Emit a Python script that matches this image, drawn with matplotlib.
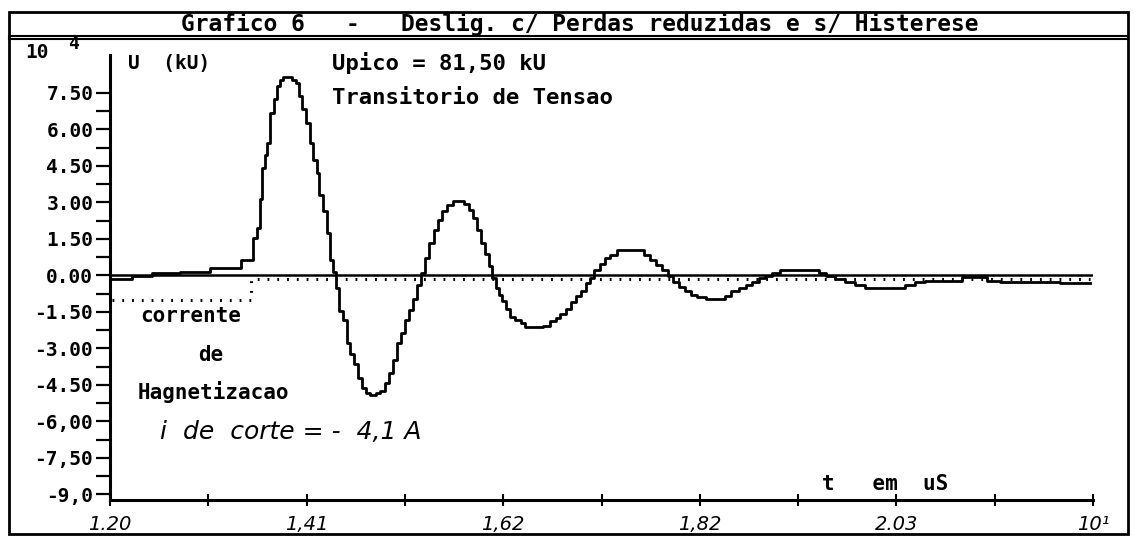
import numpy as np
import matplotlib.pyplot as plt
from matplotlib.lines import Line2D
from matplotlib.patches import Rectangle

t_u = [1.200, 1.221, 1.226, 1.263, 1.285, 1.327, 1.350, 1.353, 1.357, 1.360,
       1.362, 1.365, 1.368, 1.371, 1.375, 1.378, 1.382, 1.385, 1.390, 1.395,
       1.398, 1.401, 1.405, 1.410, 1.413, 1.417, 1.420, 1.423, 1.428, 1.431,
       1.434, 1.438, 1.441, 1.444, 1.449, 1.452, 1.456, 1.460, 1.465, 1.469,
       1.473, 1.478, 1.484, 1.488, 1.493, 1.497, 1.502, 1.506, 1.510, 1.514,
       1.519, 1.523, 1.527, 1.531, 1.535, 1.540, 1.545, 1.549, 1.554, 1.560,
       1.565, 1.572, 1.578, 1.582, 1.586, 1.590, 1.595, 1.599, 1.602, 1.606,
       1.610, 1.613, 1.617, 1.621, 1.626, 1.632, 1.637, 1.642, 1.655, 1.662,
       1.669, 1.674, 1.679, 1.685, 1.690, 1.695, 1.701, 1.706, 1.710, 1.715,
       1.721, 1.726, 1.732, 1.740, 1.761, 1.768, 1.775, 1.781, 1.787, 1.793,
       1.799, 1.805, 1.812, 1.818, 1.824, 1.837, 1.848, 1.854, 1.861, 1.869,
       1.876, 1.883, 1.890, 1.896, 1.904, 1.914, 1.946, 1.954, 1.962, 1.972,
       1.983, 1.994, 2.004, 2.036, 2.047, 2.057, 2.068, 2.099, 2.103, 2.124,
       2.131, 2.152, 2.174, 2.237]
u = [-0.16, -0.16, -0.04, 0.08, 0.16, 0.29, 0.62, 1.52, 1.93, 3.16,
     4.40, 4.93, 5.43, 6.66, 7.27, 7.77, 8.02, 8.15, 8.15, 8.05,
     7.89, 7.36, 6.86, 6.25, 5.43, 4.73, 4.19, 3.29, 2.63, 1.73,
     0.62, 0.16, -0.53, -1.48, -1.85, -2.79, -3.21, -3.62, -4.23, -4.64,
     -4.85, -4.93, -4.85, -4.73, -4.44, -4.03, -3.49, -2.79, -2.38, -1.85,
     -1.44, -0.95, -0.41, 0.08, 0.70, 1.32, 1.85, 2.26, 2.63, 2.88,
     3.04, 3.04, 2.92, 2.67, 2.34, 1.85, 1.32, 0.90, 0.37, -0.12,
     -0.53, -0.82, -1.07, -1.36, -1.69, -1.85, -1.97, -2.10, -2.10, -2.06,
     -1.89, -1.77, -1.60, -1.36, -1.11, -0.86, -0.62, -0.33, -0.12, 0.21,
     0.49, 0.70, 0.86, 1.03, 1.03, 0.86, 0.62, 0.41, 0.21, -0.04,
     -0.29, -0.49, -0.66, -0.82, -0.90, -0.95, -0.95, -0.86, -0.66, -0.53,
     -0.41, -0.29, -0.12, -0.04, 0.08, 0.21, 0.21, 0.08, -0.04, -0.16,
     -0.29, -0.41, -0.53, -0.53, -0.41, -0.25, -0.21, -0.21, -0.08, -0.08,
     -0.21, -0.25, -0.29, -0.33]

# corrente de magnetizacao (escala arbitraria), cortada em t = 1.349
t_i = [1.202, 1.349, 1.349, 2.237]
i_mag = [-1.00, -1.00, -0.14, -0.14]

y_ticks = [7.5, 6.0, 4.5, 3.0, 1.5, 0.0, -1.5, -3.0, -4.5, -6.0, -7.5, -9.0]
y_labels = ['7.50', '6.00', '4.50', '3.00', '1.50', '0.00',
            '-1.50', '-3.00', '-4.50', '-6,00', '-7,50', '-9,0']
x_ticks = [1.200, 1.304, 1.408, 1.512, 1.616, 1.720, 1.824, 1.928, 2.032, 2.136, 2.240]
x_labels = ['1.20', '', '1,41', '', '1,62', '', '1,82', '', '2.03', '', '10¹']

W, H = 1134, 538
mono = dict(family='DejaVu Sans Mono', weight='bold', color='black')
hand = dict(family='DejaVu Sans', style='italic', color='black')


def fx(px):
    return px / W


def fy(py):
    return 1 - py / H


fig = plt.figure(figsize=(W / 100, H / 100), dpi=100)
fig.patch.set_facecolor('white')

# moldura e faixa do titulo
fig.add_artist(Rectangle((fx(9), fy(534)), fx(1128) - fx(9), fy(12) - fy(534),
                         transform=fig.transFigure, fill=False, lw=2, color='black'))
for yy in (36, 39):
    fig.add_artist(Line2D([fx(9), fx(1128)], [fy(yy), fy(yy)],
                          transform=fig.transFigure, lw=1.5, color='black'))
fig.text(fx(580), fy(24), 'Grafico 6   -   Deslig. c/ Perdas reduzidas e s/ Histerese',
         ha='center', va='center', fontsize=16.5, **mono)

ax = fig.add_axes([fx(110), fy(500), fx(1093) - fx(110), fy(55) - fy(500)])
ax.set_xlim(1.20, 2.24)
ax.set_ylim(-9.23, 9.06)
for s in ('top', 'right'):
    ax.spines[s].set_visible(False)
ax.spines['left'].set_linewidth(2.2)
ax.spines['bottom'].set_linewidth(2.2)

ax.axhline(0, color='black', lw=1.8)
ax.plot(t_i, i_mag, color='black', lw=2.2, linestyle=(0, (0.6, 2.6)))
ax.plot(t_u, u, color='black', lw=2.0, drawstyle='steps-mid')

ax.set_yticks(y_ticks, y_labels)
ax.set_yticks(np.arange(-8.25, 7.6, 1.5), minor=True)
ax.tick_params(axis='y', which='both', direction='out', length=10, width=1.6, pad=2)
for lab in ax.get_yticklabels():
    lab.set_fontfamily('DejaVu Sans Mono')
    lab.set_fontweight('bold')
    lab.set_fontsize(14)

ax.set_xticks(x_ticks, x_labels)
ax.tick_params(axis='x', direction='inout', length=9, width=1.5, pad=6)
for lab in ax.get_xticklabels():
    lab.set_fontfamily('DejaVu Sans')
    lab.set_fontstyle('italic')
    lab.set_fontsize(14)

# textos
fig.text(fx(25), fy(52), '10', ha='left', va='center', fontsize=14, **mono)
fig.text(fx(68), fy(44), '4', ha='left', va='center', fontsize=13, **mono)
fig.text(fx(128), fy(63), 'U  (kU)', ha='left', va='center', fontsize=14, **mono)
fig.text(fx(332), fy(63), 'Upico = 81,50 kU', ha='left', va='center', fontsize=16, **mono)
fig.text(fx(332), fy(98), 'Transitorio de Tensao', ha='left', va='center', fontsize=16, **mono)
fig.text(fx(140), fy(316), 'corrente', ha='left', va='center', fontsize=15, **mono)
fig.text(fx(198), fy(355), 'de', ha='left', va='center', fontsize=15, **mono)
fig.text(fx(138), fy(392), 'Hagnetizacao', ha='left', va='center', fontsize=15, **mono)
fig.text(fx(160), fy(432), 'i  de  corte = -  4,1 A', ha='left', va='center', fontsize=18, **hand)
fig.text(fx(822), fy(484), 't   em  uS', ha='left', va='center', fontsize=15, **mono)

fig.savefig('out.png', dpi=100)
